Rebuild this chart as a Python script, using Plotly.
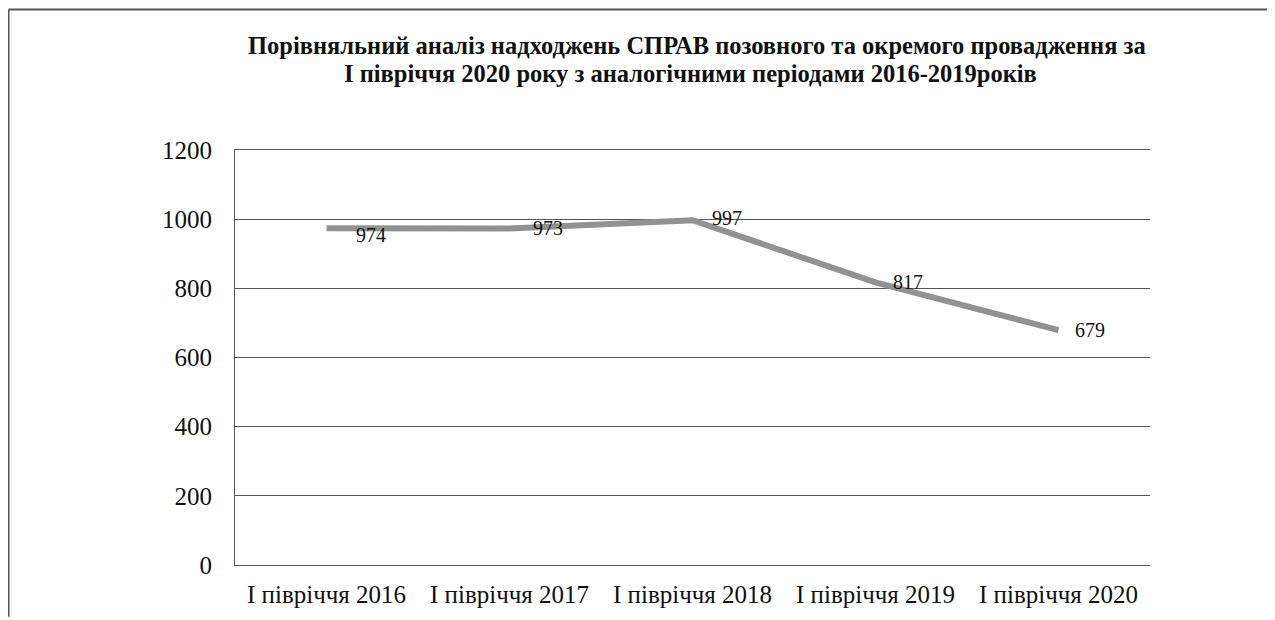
import plotly.graph_objects as go

categories = ["І півріччя 2016", "І півріччя 2017", "І півріччя 2018", "І півріччя 2019", "І півріччя 2020"]
values = [974, 973, 997, 817, 679]
label_dx = [44, 38, 34, 32, 31]
label_dy = [-7, 1, 2, 0, 0]

title_lines = ["Порівняльний аналіз надходжень СПРАВ позовного та окремого провадження за",
               "І півріччя 2020 року з аналогічними періодами 2016-2019років"]

# page body adds an 8px margin; the figure is sized to compensate
W, H = 1267, 612
ML, MR, MT, MB = 227, 125, 142, 52
PW, PH = W - ML - MR, H - MT - MB

fig = go.Figure()
fig.add_trace(go.Scatter(
    x=categories, y=values, mode="lines",
    line=dict(color="#929292", width=6),
    showlegend=False, hoverinfo="skip",
))

for c, v, dx, dy in zip(categories, values, label_dx, label_dy):
    fig.add_annotation(x=c, y=v, text=str(v), showarrow=False,
                       xshift=dx, yshift=dy,
                       font=dict(family="Liberation Serif", size=20, color="#111"))

# title as two lines (abs page y 45 and 73)
for line, abs_y, cx in zip(title_lines, [45, 73], [697, 690]):
    fy = abs_y - 8
    fig.add_annotation(xref="paper", yref="paper",
                       x=(cx - 8 - ML) / PW, y=(MT + PH - fy) / PH,
                       xanchor="center", yanchor="middle", showarrow=False,
                       text="<b>" + line + "</b>",
                       font=dict(family="Liberation Serif", size=24.5, color="#111"))

fig.update_layout(
    width=W, height=H,
    paper_bgcolor="white", plot_bgcolor="white",
    margin=dict(l=ML, r=MR, t=MT, b=MB),
    font=dict(family="Liberation Serif", color="#111"),
)

fig.update_xaxes(
    type="category", showgrid=False, showline=True, mirror=True,
    linecolor="#555", linewidth=1,
    zeroline=False, ticks="", ticklabelstandoff=7,
    tickfont=dict(family="Liberation Serif", size=25, color="#111"),
    range=[-0.5, 4.5],
)
fig.update_yaxes(
    range=[0, 1200], tickvals=[0, 200, 400, 600, 800, 1000, 1200],
    showgrid=True, gridcolor="#555", gridwidth=1,
    showline=True, linecolor="#555", linewidth=1, zeroline=False,
    ticks="", ticklabelstandoff=17,
    tickfont=dict(family="Liberation Serif", size=25, color="#111"),
)

# scanned page frame (left and top edges)
x_left = (0.5 - ML) / PW
y_top = (MT + PH - 0.5) / PH
fig.add_shape(type="line", xref="paper", yref="paper",
              x0=x_left, x1=x_left, y0=y_top, y1=-MB / PH,
              line=dict(color="#555", width=2))
fig.add_shape(type="line", xref="paper", yref="paper",
              x0=x_left, x1=(W - ML) / PW, y0=y_top, y1=y_top,
              line=dict(color="#555", width=2))

fig.write_html("out.html")
